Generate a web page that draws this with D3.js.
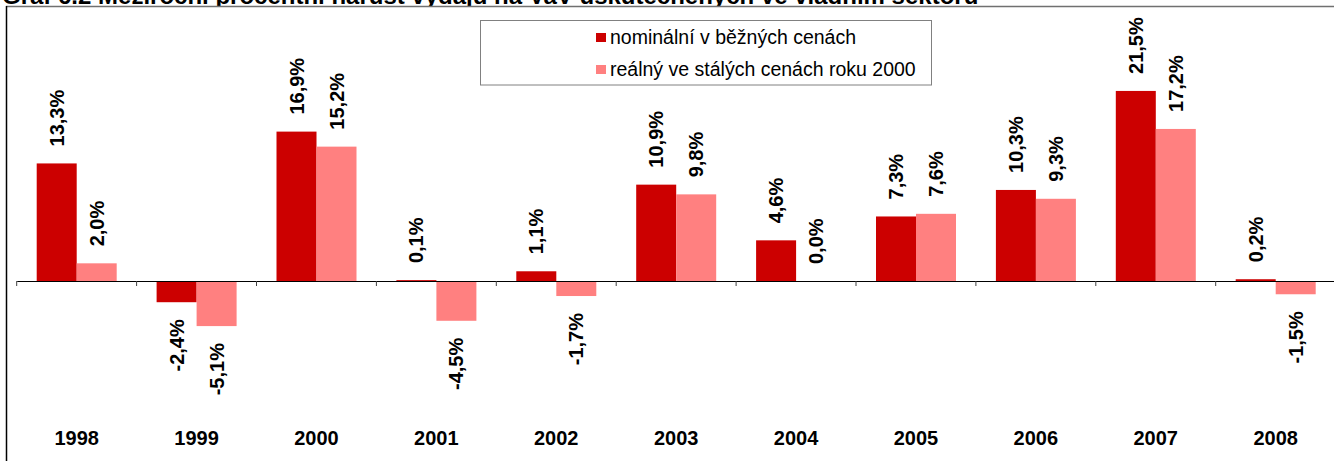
<!DOCTYPE html>
<html>
<head>
<meta charset="utf-8">
<script src="https://cdn.jsdelivr.net/npm/d3@7"></script>
<style>
  html, body { margin: 0; padding: 0; background: #fff; }
  svg { display: block; }
</style>
</head>
<body>
<script>
const categories = ["1998","1999","2000","2001","2002","2003","2004","2005","2006","2007","2008"];
const nominal = [13.3, -2.4, 16.9, 0.1, 1.1, 10.9, 4.6, 7.3, 10.3, 21.5, 0.2];
const real = [2.0, -5.1, 15.2, -4.5, -1.7, 9.8, 0.0, 7.6, 9.3, 17.2, -1.5];
const seriesNames = ["nominální v běžných cenách", "reálný ve stálých cenách roku 2000"];
const seriesColors = ["#CC0000", "#FF8080"];
const titleText = "Graf 6.2 Meziroční procentní nárůst výdajů na VaV uskutečněných ve vládním sektoru";

const W = 1334, H = 461;
const svg = d3.select("body").append("svg").attr("width", W).attr("height", H);
const font = "Liberation Sans, Arial, sans-serif";

// title (clipped at top, as in the reference)
svg.append("text").attr("x", 2).attr("y", 4)
  .attr("font-family", font).attr("font-weight", "bold")
  .attr("font-size", 24).text(titleText);

// frame
svg.append("rect").attr("x", 6.5).attr("y", 7).attr("width", W).attr("height", H)
  .attr("fill", "#fff").attr("stroke", "none");
svg.append("line").attr("x1", 6).attr("x2", W).attr("y1", 6.5).attr("y2", 6.5)
  .attr("stroke", "#707070").attr("stroke-width", 1.5);
svg.append("line").attr("x1", 6.5).attr("x2", 6.5).attr("y1", 6).attr("y2", H)
  .attr("stroke", "#000").attr("stroke-width", 1.5);

const x0 = d3.scaleBand().domain(categories).range([16.7, 16.7 + 11 * 119.9]).paddingInner(0).paddingOuter(0);
const x1 = d3.scaleBand().domain([0, 1]).range([20, 100]);
const y = d3.scaleLinear().domain([-20, 25]).range([281 + 20 * 8.84, 281 - 25 * 8.84]);

const data = categories.map((c, i) => ({ c, vals: [nominal[i], real[i]] }));
const fmt = v => (v < 0 ? "-" : "") + d3.format(".1f")(Math.abs(v)).replace(".", ",") + "%";

const g = svg.append("g");
const groups = g.selectAll("g.grp").data(data).join("g")
  .attr("transform", d => `translate(${x0(d.c)},0)`);

groups.selectAll("rect").data(d => d.vals.map((v, k) => ({ v, k }))).join("rect")
  .attr("x", d => x1(d.k))
  .attr("width", x1.bandwidth())
  .attr("y", d => Math.min(y(d.v), y(0)))
  .attr("height", d => Math.abs(y(d.v) - y(0)))
  .attr("fill", d => seriesColors[d.k]);

groups.selectAll("text").data(d => d.vals.map((v, k) => ({ v, k }))).join("text")
  .attr("transform", d => {
    const cx = x1(d.k) + x1.bandwidth() / 2 + 7;
    const yy = d.v >= 0 ? y(d.v) - 17 : y(d.v) + 17;
    return `translate(${cx},${yy}) rotate(-90)`;
  })
  .attr("text-anchor", d => d.v >= 0 ? "start" : "end")
  .attr("font-family", font).attr("font-weight", "bold").attr("font-size", 20)
  .attr("fill", "#000")
  .text(d => fmt(d.v));

// axis
const axis = d3.axisBottom(x0).tickSize(0).tickFormat("");
const ax = svg.append("g").attr("transform", `translate(0,${y(0)})`).call(axis);
ax.select(".domain").attr("stroke", "#000").attr("stroke-width", 1.2);
ax.selectAll(".boundary").data(d3.range(categories.length)).join("line")
  .attr("x1", i => x0(categories[i])).attr("x2", i => x0(categories[i]))
  .attr("y1", 0).attr("y2", 5).attr("stroke", "#404040");

// category labels
svg.selectAll("text.cat").data(categories).join("text").attr("class", "cat")
  .attr("x", d => x0(d) + x0.bandwidth() / 2).attr("y", 445)
  .attr("text-anchor", "middle")
  .attr("font-family", font).attr("font-weight", "bold").attr("font-size", 20)
  .text(d => d);

// legend
const lg = svg.append("g");
lg.append("rect").attr("x", 480.5).attr("y", 20.5).attr("width", 451).attr("height", 64.5)
  .attr("fill", "#fff").attr("stroke", "#808080").attr("stroke-width", 1);
seriesNames.forEach((n, i) => {
  lg.append("rect").attr("x", 596).attr("y", 33 + i * 32).attr("width", 10).attr("height", 9)
    .attr("fill", seriesColors[i]);
  lg.append("text").attr("x", 610).attr("y", 44 + i * 32)
    .attr("font-family", font).attr("font-size", 19.5).attr("fill", "#000").text(n);
});
</script>
</body>
</html>
